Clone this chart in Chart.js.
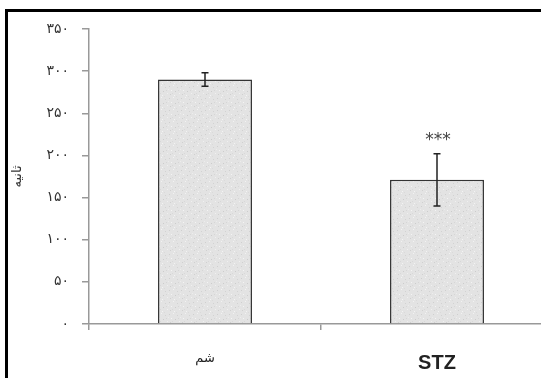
<!DOCTYPE html>
<html>
<head>
<meta charset="utf-8">
<script src="https://cdn.jsdelivr.net/npm/chart.js@4/dist/chart.umd.min.js"></script>
<style>
html,body{margin:0;padding:0;background:#fff;overflow:hidden;width:541px;height:378px;}
#wrap{position:absolute;left:0;top:0;width:580px;height:378px;}
#frame{position:absolute;left:5px;top:9px;width:700px;height:500px;border-top:3px solid #000;border-left:3px solid #000;pointer-events:none;}
</style>
</head>
<body>
<div id="wrap"><canvas id="c" width="580" height="378"></canvas></div>
<div id="frame"></div>
<script>
const categories = ['شم', 'STZ'];
const meanValues = [290, 171];
const errorValues = [8, 31];
const sigLabels = ['', '***'];
const yTickLabels = ['۰', '۵۰', '۱۰۰', '۱۵۰', '۲۰۰', '۲۵۰', '۳۰۰', '۳۵۰'];
const yTitle = 'ثانیه';

// speckled fill pattern (style only)
function makePattern() {
  const p = document.createElement('canvas');
  p.width = 12; p.height = 12;
  const g = p.getContext('2d');
  g.fillStyle = '#e3e3e3';
  g.fillRect(0, 0, 12, 12);
  const dots = [[1,2,'#cfcfcf'],[5,1,'#f2f2f2'],[9,3,'#d2d2d2'],[3,6,'#f4f4f4'],[7,7,'#cccccc'],[11,9,'#f0f0f0'],[2,10,'#d0d0d0'],[6,11,'#f3f3f3'],[10,6,'#d6d6d6'],[0,5,'#ececec'],[8,0,'#dadada'],[4,9,'#d8d8d8']];
  dots.forEach(d => { g.fillStyle = d[2]; g.fillRect(d[0], d[1], 1, 1); });
  return g.createPattern(p, 'repeat');
}

const errorBarPlugin = {
  id: 'errorBars',
  afterDatasetsDraw(chart) {
    const ctx = chart.ctx;
    const meta = chart.getDatasetMeta(0);
    const ys = chart.scales.y;
    ctx.save();
    ctx.strokeStyle = '#222';
    ctx.lineWidth = 1.5;
    meta.data.forEach((bar, i) => {
      const x = bar.x;
      const t = ys.getPixelForValue(meanValues[i] + errorValues[i]);
      const b = ys.getPixelForValue(meanValues[i] - errorValues[i]);
      ctx.beginPath();
      ctx.moveTo(x, t); ctx.lineTo(x, b);
      ctx.moveTo(x - 3.5, t); ctx.lineTo(x + 3.5, t);
      ctx.moveTo(x - 3.5, b); ctx.lineTo(x + 3.5, b);
      ctx.stroke();
      if (sigLabels[i]) {
        ctx.fillStyle = '#444';
        ctx.font = '17px "DejaVu Sans", sans-serif';
        ctx.textAlign = 'center';
        ctx.textBaseline = 'middle';
        ctx.fillText(sigLabels[i], x + 1, t - 13);
      }
    });
    ctx.restore();
  }
};

new Chart(document.getElementById('c'), {
  type: 'bar',
  data: {
    labels: categories,
    datasets: [{
      data: meanValues,
      backgroundColor: makePattern(),
      borderColor: '#333',
      borderWidth: 1.5,
      borderSkipped: 'bottom',
      barPercentage: 0.405,
      categoryPercentage: 1.0
    }]
  },
  options: {
    responsive: false,
    animation: false,
    devicePixelRatio: 1,
    layout: { padding: { top: 29, right: 27, left: 0, bottom: 0 } },
    plugins: { legend: { display: false }, tooltip: { enabled: false } },
    scales: {
      x: {
        grid: { display: true, offset: true, drawOnChartArea: false, tickLength: 6, color: '#999', lineWidth: 1.5 },
        border: { color: '#999', width: 1.5 },
        ticks: {
          padding: 21,
          color: (c) => c.index === 1 ? '#222' : '#222',
          font: (c) => c.index === 1 ? { family: '"Liberation Sans Narrow", "Liberation Sans", sans-serif', size: 20, weight: 'bold' } : { family: '"DejaVu Sans", sans-serif', size: 13 }
        },
        afterFit(s) { s.height = 54; }
      },
      y: {
        min: 0, max: 350,
        ticks: {
          stepSize: 50,
          padding: 13,
          color: '#333',
          font: { family: '"DejaVu Sans", sans-serif', size: 14 },
          callback: (v) => yTickLabels[Math.round(v / 50)]
        },
        grid: { display: true, drawOnChartArea: false, tickLength: 7, color: '#999', lineWidth: 1.5 },
        border: { color: '#999', width: 1.5 },
        title: { display: true, text: yTitle, color: '#333', font: { family: '"DejaVu Sans", sans-serif', size: 13 }, padding: { top: 10, bottom: 0 } },
        afterFit(s) { s.width = 89; }
      }
    }
  },
  plugins: [errorBarPlugin]
});
</script>
</body>
</html>
